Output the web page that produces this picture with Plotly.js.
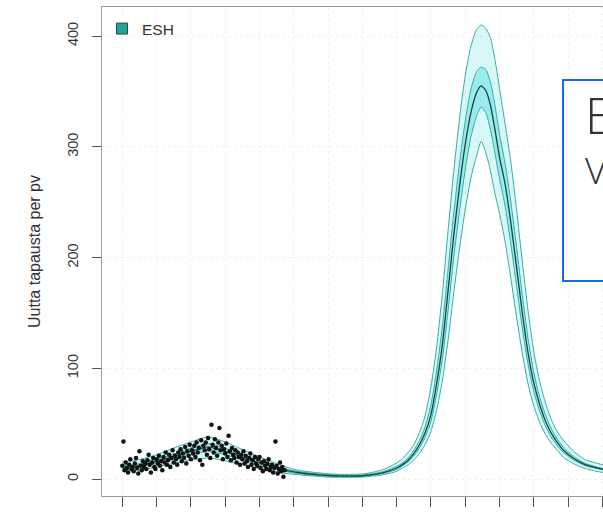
<!DOCTYPE html>
<html>
<head>
<meta charset="utf-8">
<script src="https://cdn.plot.ly/plotly-3.0.1.min.js"></script>
<style>
  html, body { margin: 0; padding: 0; overflow: hidden; background: #fff; }
  #wrap { width: 603px; height: 520px; overflow: hidden; position: relative; }
</style>
</head>
<body>
<div id="wrap"><div id="chart"></div></div>
<script>
// Model days (day 0 = first observation) and the fitted curve with its credible bands
const modelDays = [0,10,20,30,40,50,60,70,75,80,90,100,110,120,130,140,150,160,170,180,190,200,210,220,230,240,245,250,255,260,265,270,275,280,285,290,295,300,305,310,314,318,322,326,330,335,340,345,350,355,360,365,370,375,380,386,395,405,420,435,445];
const median = [11,11.5,13.5,16,19,22,25,28,29,28,25,21.5,18,14.5,11.5,8.5,6.5,5,4,3.2,2.8,2.7,3,4.2,6.3,10,13,17,23,31,42,58,86,121,170,220,264,302,331,349,355,351,338,316,291,266,231,191,150,114,87,68,53,42,34,26,18.5,13,9,6.5,5];
const lo95   = [7,7.5,9,11,13,15,17,18.5,19,18.5,16.5,14,12,9.5,7.5,5.5,4.3,3.3,2.5,1.8,1.6,1.6,1.8,2.7,4.2,7,9.9,12.9,17.2,23.2,31.4,43,62,88.6,125,168,208,243,272,292,305,295,279,258,240,214,181,146,113.5,86,66,51.6,40.9,32.7,26.7,19.5,13.8,9.5,6,4.5,3.5];
const lo50   = [9.5,10,12,14,17,19.5,22,24.5,25.5,24.5,22,19,16,12.5,10,7.5,5.5,4.2,3.3,2.6,2.3,2.2,2.5,3.6,5.5,8.7,11.8,15.4,20.7,27.9,37.8,52,76.4,108,152,200,242,279,309,328,336,331,316,294.5,271.7,246,212,174,136,103.5,79,61.8,48.5,38.4,31,23.8,17.1,12.1,8.4,6.1,4.7];
const hi50   = [12.5,13,15,18,21,24.5,28,31,32,31,28,24,20,16.5,13,9.8,7.5,6,4.8,4,3.4,3.2,3.6,4.9,7.2,11.5,14.5,19.1,25.8,34.9,47.5,66.8,97.7,137.5,189,240,285,323,352,368,372,370,358.6,338,312,284.6,250,209,166,127,96.6,74.6,58.8,46.2,37,28.7,20.3,14.2,9.6,6.9,5.3];
const hi95   = [16,16.5,19,22,26,30,33.5,37,38,37,33.5,29,24.5,20,16,12,8.8,7,5.8,4.8,4.3,4.2,4.6,6.3,9.2,14.5,18.5,24,31,42,57.5,83,119,167,224,278,325,364,391,406,410,407,399,379,353,320,286,243,196,152,115,89,69.5,54.6,43.7,35,25,17.5,13,9.5,7.5];

// Daily reported new cases, starting on day 0
const observed = [12,34,8,15,10,6,13,18,9,11,7,14,19,10,5,25,12,8,16,11,14,9,17,22,13,6,15,19,11,9,
  18,14,21,12,16,8,20,15,24,13,17,22,11,19,26,15,21,18,13,24,20,27,16,23,19,29,14,25,21,31,
  18,26,23,30,20,33,24,28,17,35,13,30,26,33,22,37,27,19,49,31,24,36,28,21,33,46,26,30,18,27,
  23,32,20,39,25,17,28,22,19,26,15,24,20,13,22,18,25,14,21,16,11,19,23,13,17,9,20,14,12,18,
  20,10,15,7,16,12,9,14,18,8,11,13,6,10,34,12,5,9,15,7,11,2,8];
const observedDays = observed.map((_, i) => i);

const seriesName = 'ESH';
const yTicks = [0, 100, 200, 300, 400];
const yTitle = 'Uutta tapausta per pv';

// Plot frame in pixels inside a layout wider than the visible window
const W = 700, H = 560;
const M = { l: 102, r: 50, t: 7, b: 64 };
const plotW = W - M.l - M.r, plotH = H - M.t - M.b;
const px2x = p => (p - M.l) / plotW;
const px2y = p => (H - M.b - p) / plotH;

const bandLine = '#36aca6';
const curve = { shape: 'spline', smoothing: 0.6 };
const traces = [
  { x: modelDays, y: lo95, mode: 'lines', line: Object.assign({ color: bandLine, width: 1 }, curve), showlegend: false, hoverinfo: 'skip' },
  { x: modelDays, y: hi95, mode: 'lines', fill: 'tonexty', fillcolor: 'rgba(40,215,215,0.18)', line: Object.assign({ color: bandLine, width: 1 }, curve), showlegend: false, hoverinfo: 'skip' },
  { x: modelDays, y: lo50, mode: 'lines', line: Object.assign({ color: bandLine, width: 1 }, curve), showlegend: false, hoverinfo: 'skip' },
  { x: modelDays, y: hi50, mode: 'lines', fill: 'tonexty', fillcolor: 'rgba(40,215,215,0.35)', line: Object.assign({ color: bandLine, width: 1 }, curve), showlegend: false, hoverinfo: 'skip' },
  { x: modelDays, y: median, mode: 'lines', line: Object.assign({ color: '#1a4444', width: 1.3 }, curve), showlegend: false },
  { x: observedDays, y: observed, mode: 'markers', marker: { color: '#111', size: 4.5 }, showlegend: false },
  { x: [null], y: [null], name: seriesName, mode: 'markers', marker: { symbol: 'square', size: 11, color: '#1fa596', line: { color: '#2b4a47', width: 1 } }, showlegend: true }
];

const layout = {
  width: W, height: H,
  margin: M,
  paper_bgcolor: '#fff', plot_bgcolor: '#fff',
  font: { family: 'Liberation Sans, Arial, sans-serif', color: '#333', size: 15 },
  showlegend: true,
  legend: { x: 0, y: px2y(12), xanchor: 'left', yanchor: 'top', bgcolor: 'rgba(0,0,0,0)', font: { size: 15.5, color: '#333' } },
  xaxis: {
    range: [-17.76, 461.7], tick0: 0, dtick: 30, ticks: 'outside', ticklen: 10, tickcolor: '#555',
    showticklabels: false, showgrid: true, gridcolor: '#f1f1f1', griddash: 'dot', zeroline: false,
    showline: true, mirror: true, linecolor: '#9a9a9a', linewidth: 1
  },
  yaxis: {
    range: [-15.3, 426.3], tickvals: yTicks, ticks: 'outside', ticklen: 9, tickcolor: '#555',
    tickangle: -90, tickfont: { size: 14.5, color: '#333' }, ticklabelstandoff: 8,
    showgrid: true, gridcolor: '#f1f1f1', griddash: 'dot', zeroline: false,
    showline: true, mirror: true, linecolor: '#9a9a9a', linewidth: 1,
    title: { text: yTitle, font: { size: 16, color: '#333' }, standoff: 20 }
  },
  shapes: [
    { type: 'rect', xref: 'paper', yref: 'paper', x0: px2x(563), x1: px2x(720), y0: px2y(281), y1: px2y(80),
      line: { color: '#1466ff', width: 2 }, fillcolor: '#fff', layer: 'above' }
  ],
  annotations: [
    { xref: 'paper', yref: 'paper', x: px2x(583), y: px2y(115), xanchor: 'left', yanchor: 'middle', text: 'E', showarrow: false,
      font: { family: 'Open Sans, Lato, sans-serif', size: 50, color: '#333', weight: 300 } },
    { xref: 'paper', yref: 'paper', x: px2x(583), y: px2y(169), xanchor: 'left', yanchor: 'middle', text: 'V', showarrow: false,
      font: { family: 'Open Sans, Lato, sans-serif', size: 37, color: '#333', weight: 300 } }
  ]
};

Plotly.newPlot('chart', traces, layout, { displayModeBar: false, staticPlot: true });
</script>
</body>
</html>
